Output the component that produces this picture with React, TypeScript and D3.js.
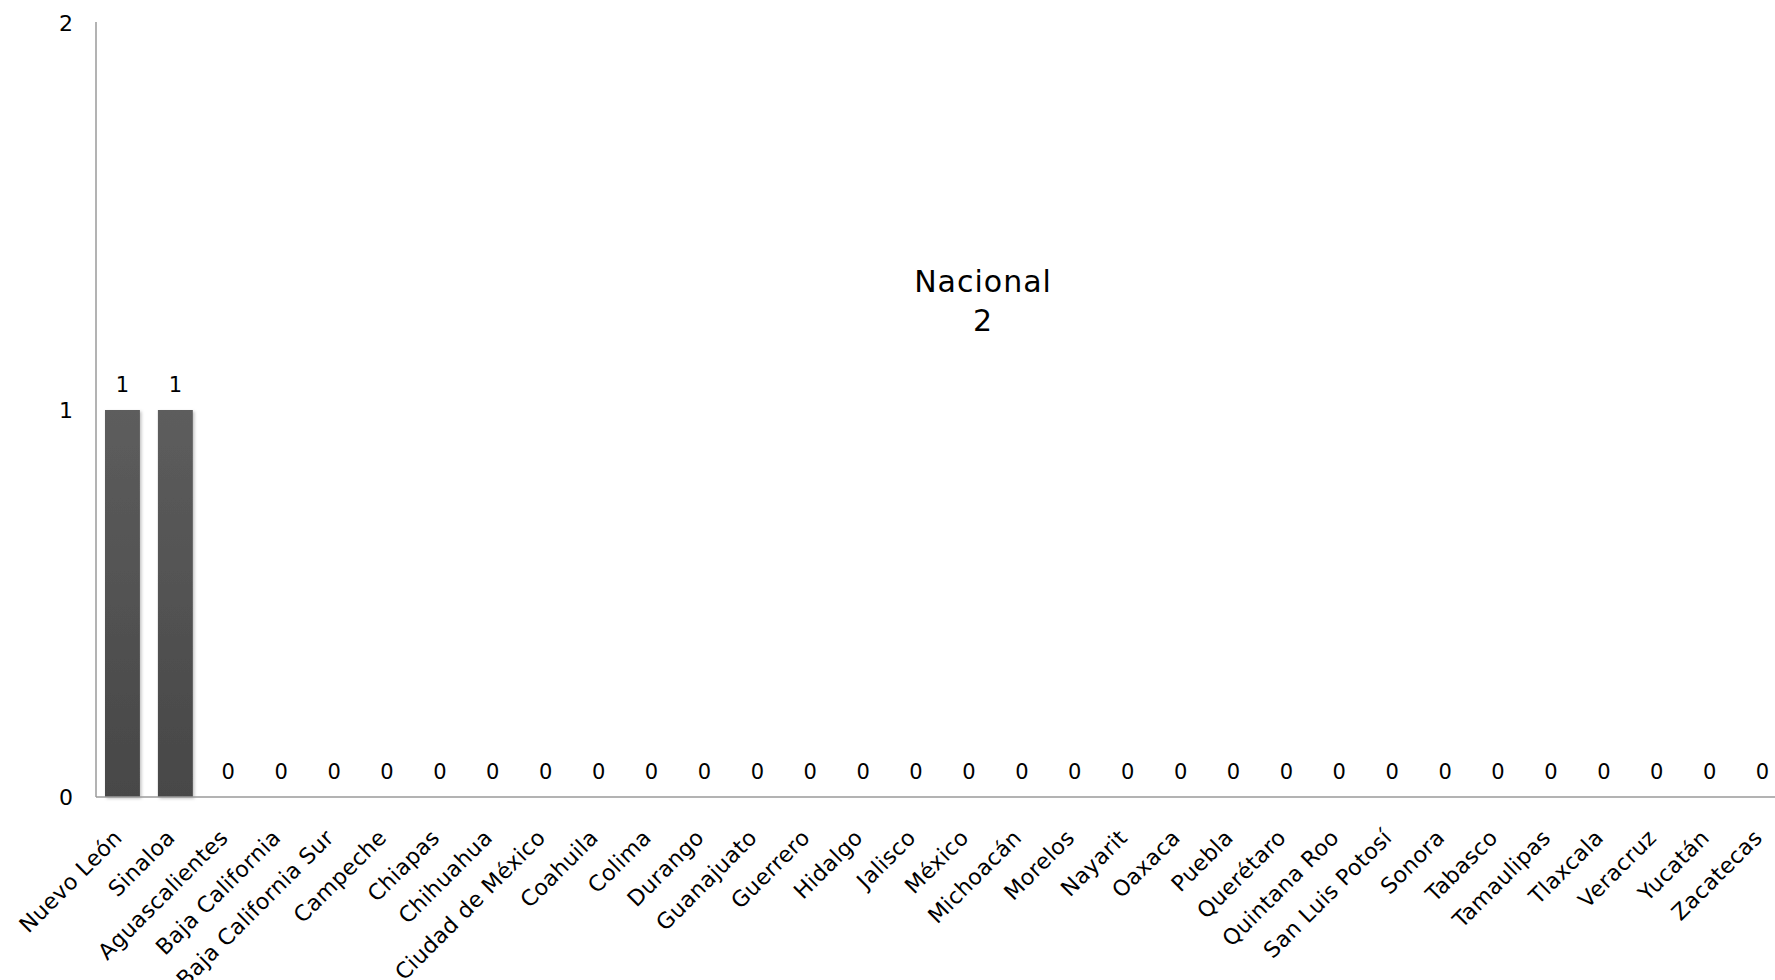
import React from "react";
import * as d3 from "d3";

const categories = [
  "Nuevo León", "Sinaloa", "Aguascalientes", "Baja California", "Baja California Sur",
  "Campeche", "Chiapas", "Chihuahua", "Ciudad de México", "Coahuila", "Colima",
  "Durango", "Guanajuato", "Guerrero", "Hidalgo", "Jalisco", "México", "Michoacán",
  "Morelos", "Nayarit", "Oaxaca", "Puebla", "Querétaro", "Quintana Roo",
  "San Luis Potosí", "Sonora", "Tabasco", "Tamaulipas", "Tlaxcala", "Veracruz",
  "Yucatán", "Zacatecas",
];
const values = [1, 1, 0, 0, 0, 0, 0, 0, 0, 0, 0, 0, 0, 0, 0, 0, 0, 0, 0, 0, 0, 0, 0, 0, 0, 0, 0, 0, 0, 0, 0, 0];
const yTicks = [0, 1, 2];
const titleLines = ["Nacional", "2"];

const W = 1775;
const H = 980;
const FONT = "'DejaVu Sans', sans-serif";

export default function App() {
  const x = d3
    .scaleBand<string>()
    .domain(categories)
    .range([96, 1789])
    .paddingInner(0.34)
    .paddingOuter(0.17);
  const y = d3.scaleLinear().domain([0, 2]).range([797, 23]);

  return (
    <svg
      width={W}
      height={H}
      style={{ position: "absolute", left: 0, top: 0, background: "#fff" }}
      fontFamily={FONT}
    >
      <defs>
        <linearGradient id="barGrad" x1="0" y1="0" x2="0" y2="1">
          <stop offset="0" stopColor="#5d5d5d" />
          <stop offset="1" stopColor="#474747" />
        </linearGradient>
        <filter id="shadow" x="-20%" y="-5%" width="150%" height="115%">
          <feDropShadow dx="1.5" dy="1.5" stdDeviation="1.5" floodColor="#000" floodOpacity="0.25" />
        </filter>
      </defs>

      {/* bars */}
      {categories.map((c, i) => {
        const v = values[i];
        const h = y(0) - y(v);
        return h > 0 ? (
          <rect
            key={c}
            x={x(c)}
            y={y(v)}
            width={x.bandwidth()}
            height={h}
            fill="url(#barGrad)"
            filter="url(#shadow)"
          />
        ) : null;
      })}

      {/* axes */}
      <line x1={96} x2={96} y1={y(2) - 1} y2={y(0)} stroke="#9a9a9a" strokeWidth={1.5} />
      <line x1={96} x2={W} y1={y(0)} y2={y(0)} stroke="#9a9a9a" strokeWidth={1.5} />

      {/* y tick labels */}
      {yTicks.map((t) => (
        <text
          key={t}
          x={73}
          y={y(t) + 8}
          textAnchor="end"
          fontSize={22}
          fill="#000"
        >
          {t}
        </text>
      ))}

      {/* value labels */}
      {categories.map((c, i) => (
        <text
          key={c}
          x={(x(c) as number) + x.bandwidth() / 2}
          y={y(values[i]) - 18}
          textAnchor="middle"
          fontSize={21}
          fill="#000"
        >
          {values[i]}
        </text>
      ))}

      {/* x labels */}
      {categories.map((c) => {
        const cx = (x(c) as number) + x.bandwidth() / 2;
        return (
          <text
            key={c}
            transform={`translate(${cx + 1},${839}) rotate(-45)`}
            textAnchor="end"
            fontSize={22}
            letterSpacing={0.4}
            fill="#000"
          >
            {c}
          </text>
        );
      })}

      {/* title */}
      {titleLines.map((t, i) => (
        <text key={i} x={983} y={292 + i * 39} textAnchor="middle" fontSize={30} letterSpacing={1} fill="#000">
          {t}
        </text>
      ))}
    </svg>
  );
}
